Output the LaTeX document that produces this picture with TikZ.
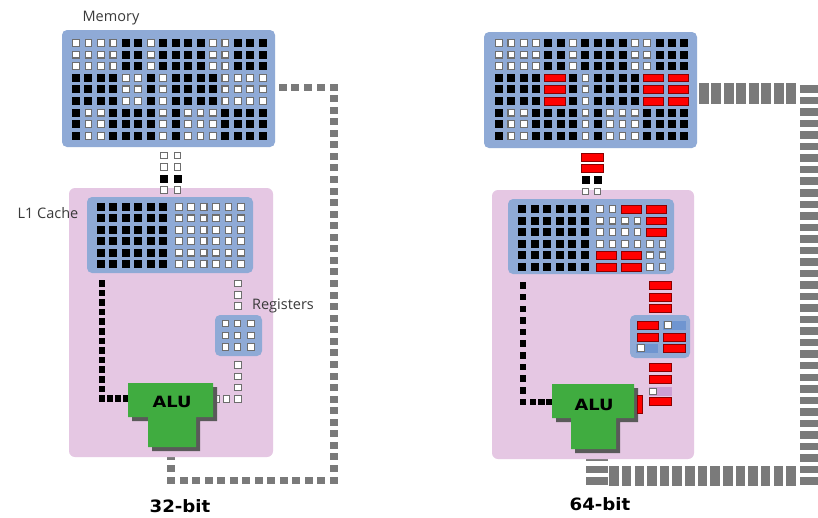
\documentclass[tikz,border=0pt]{standalone}
\usepackage{fontspec}
\setmainfont{Open Sans}
\newfontfamily\boldsans{DejaVu Sans}
\definecolor{boxblue}{HTML}{8FAAD6}
\definecolor{boxpurple}{HTML}{E5C7E3}
\definecolor{alugreen}{HTML}{40AC40}
\definecolor{shadowgray}{HTML}{5A5A5A}
\definecolor{busgray}{HTML}{7A7A7A}
\definecolor{cellgray}{HTML}{6E6E6E}
\definecolor{regblue}{HTML}{6F95D0}
\definecolor{cellpurple}{HTML}{CC9FD3}
\definecolor{labelgray}{HTML}{3A3A3A}
\definecolor{darkred}{HTML}{8A0000}
\newcommand\cellW[2]{\filldraw[fill=white,draw=cellgray,line width=1.1pt] ({#1-3.4},{#2-3.4}) rectangle ({#1+3.4},{#2+3.4});}
\newcommand\cellB[2]{\fill[black] ({#1-4},{#2-4}) rectangle ({#1+4},{#2+4});}
\newcommand\cellR[2]{\filldraw[fill=red,draw=darkred,line width=0.5pt] ({#1-4},{#2-3.8}) rectangle ({#1+16.4},{#2+3.8});}
\newcommand\cellN[2]{}
\newcommand\dotB[2]{\fill[black] ({#1-3.3},{#2-3.3}) rectangle ({#1+3.3},{#2+3.3});}
\newcommand\gsq[4]{\fill[busgray] ({#1-#3/2},{#2-#4/2}) rectangle ({#1+#3/2},{#2+#4/2});}
\newcommand\rbar[2]{\filldraw[fill=red,draw=darkred,line width=0.5pt] ({#1-11},{#2-4}) rectangle ({#1+11},{#2+4});}
% #1 x0, #2 y0, #3 pitch x, #4 pitch y, #5 extra gap after column 6, #6 rows
\newcommand\gridrows[6]{%
  \foreach \row [count=\rr] in {#6} {
    \foreach \cc [count=\ii] in \row {
      \pgfmathsetmacro\xx{#1+(\ii-1)*#3+(\ii>6)*#5}
      \pgfmathsetmacro\yy{#2+(\rr-1)*#4}
      \csname cell\cc\endcsname{\xx}{\yy}
    }
  }}
\tikzset{
  lbl/.style={font=\fontsize{14.5}{17}\selectfont, text=labelgray, inner sep=0pt},
  alut/.style={font=\boldsans\bfseries\fontsize{15.5}{18}\selectfont, inner sep=0pt},
  bitt/.style={font=\boldsans\bfseries\fontsize{17}{20}\selectfont, inner sep=0pt},
  bluebox/.style={fill=boxblue, rounded corners=5pt},
  purplebox/.style={fill=boxpurple, rounded corners=6pt}
}
\begin{document}
\begin{tikzpicture}[x=1pt,y=-1pt]
\useasboundingbox (0,0) rectangle (818,517);
\fill[white] (0,0) rectangle (818,517);

% ================= 32-bit =================
\path[bluebox] (62,30) rectangle (275,147);
\gridrows{76}{43}{12.45}{11.6}{0}{
 {W,W,W,W,B,B,W,B,B,B,B,W,W,B,B,B},
 {W,W,W,W,B,B,W,B,B,B,B,W,W,B,B,B},
 {W,W,W,W,B,B,W,B,B,B,B,W,W,B,B,B},
 {B,B,B,B,W,W,B,W,B,B,B,B,W,W,W,W},
 {B,B,B,B,W,W,B,W,B,B,B,B,W,W,W,W},
 {B,B,B,B,W,W,B,W,B,B,B,B,W,W,W,W},
 {B,W,W,B,B,B,B,W,B,W,W,W,B,B,B,B},
 {B,W,W,B,B,B,B,W,B,W,W,W,B,B,B,B},
 {B,W,W,B,B,B,B,W,B,W,W,W,B,B,B,B}}

% bus 32
\foreach \k in {0,...,3} {\gsq{282.5+\k*12.9}{87}{8}{7}}
\foreach \k in {0,...,34} {\gsq{334}{87+\k*11.56}{8}{7}}
\foreach \k in {1,...,13} {\gsq{334-\k*12.54}{480}{8}{7}}
\gsq{171}{468.5}{8}{7}
\gsq{171}{456.5}{8}{7}

\path[purplebox] (69,188) rectangle (273,457);
% memory -> L1
\foreach \y/\t in {155.5/W,167/W,178.5/B,190/W} {
  \csname cell\t\endcsname{164}{\y}
  \csname cell\t\endcsname{177.5}{\y}
}
\path[bluebox] (87,197) rectangle (253,273);
\gridrows{101}{207}{12.45}{11.4}{3}{
 {B,B,B,B,B,B,W,W,W,W,W,W},
 {B,B,B,B,B,B,W,W,W,W,W,W},
 {B,B,B,B,B,B,W,W,W,W,W,W},
 {B,B,B,B,B,B,W,W,W,W,W,W},
 {B,B,B,B,B,B,W,W,W,W,W,W},
 {B,B,B,B,B,B,W,W,W,W,W,W}}
% L1 -> ALU (black)
\foreach \k in {0,...,12} {\dotB{102}{283.3+\k*9.6}}
\foreach \x in {110,118,126} {\dotB{\x}{398.5}}
% L1 -> registers -> ALU (white)
\foreach \y in {283.5,295,306,365,376.5,387.5,399} {\cellW{238}{\y}}
\foreach \x in {226.5,216} {\cellW{\x}{399}}
\path[bluebox] (215,315) rectangle (262,356);
\foreach \x in {225.5,237.5,251} {\foreach \y in {323.5,335.5,346.7} {\cellW{\x}{\y}}}
% ALU 32
\fill[shadowgray] (132,387) -- (217,387) -- (217,421) -- (200,421) -- (200,451) -- (152,451) -- (152,421) -- (132,421) -- cycle;
\fill[alugreen] (128,383) -- (213,383) -- (213,417) -- (196,417) -- (196,447) -- (148,447) -- (148,417) -- (128,417) -- cycle;
\node[alut] (alu32) at (172,402) {\scalebox{1.15}[1]{ALU}};

\node[lbl] (memlbl) at (111,18) {Memory};
\node[lbl] (l1lbl) at (48,213) {L1 Cache};
\node[lbl] (reglbl) at (283,306) {Registers};
\node[bitt] (b32) at (180,506) {\scalebox{1.07}[1]{32-bit}};

% ================= 64-bit =================
\path[bluebox] (484,32) rectangle (697,148);
\gridrows{499}{43}{12.35}{11.6}{0}{
 {W,W,W,W,B,B,W,B,B,B,B,W,W,B,B,B},
 {W,W,W,W,B,B,W,B,B,B,B,W,W,B,B,B},
 {W,W,W,W,B,B,W,B,B,B,B,W,W,B,B,B},
 {B,B,B,B,R,N,B,W,B,B,B,B,R,N,R,N},
 {B,B,B,B,R,N,B,W,B,B,B,B,R,N,R,N},
 {B,B,B,B,R,N,B,W,B,B,B,B,R,N,R,N},
 {B,W,W,B,B,B,B,W,B,W,W,W,B,B,B,B},
 {B,W,W,B,B,B,B,W,B,W,W,W,B,B,B,B},
 {B,W,W,B,B,B,B,W,B,W,W,W,B,B,B,B}}

% bus 64
\foreach \k in {0,...,7} {\gsq{703.8+\k*12.5}{93.5}{10}{21}}
\foreach \k in {0,...,34} {\gsq{811}{89+\k*11.53}{22}{7.5}}
\foreach \k in {0,...,14} {\gsq{614+\k*12.64}{476}{9.5}{20}}
\foreach \y in {457.5,469.5,481} {\gsq{597}{\y}{22}{7.5}}

\path[purplebox] (492,190) rectangle (694,459);
% memory -> L1
\rbar{592}{157}
\rbar{592}{168}
\cellB{585.5}{180}\cellB{597.5}{180}
\cellW{585.5}{191.5}\cellW{597.5}{191.5}
\path[bluebox] (508,199) rectangle (674,274);
\gridrows{522}{209}{12.5}{11.6}{3}{
 {B,B,B,B,B,B,W,W,R,N,R,N},
 {B,B,B,B,B,B,W,W,W,W,R,N},
 {B,B,B,B,B,B,W,W,W,W,R,N},
 {B,B,B,B,B,B,W,W,W,W,W,W},
 {B,B,B,B,B,B,R,N,R,N,W,W},
 {B,B,B,B,B,B,R,N,R,N,W,W}}
% L1 -> ALU (black)
\foreach \k in {0,...,10} {\dotB{523}{285.5+\k*11.65}}
\foreach \x in {533,541.5,549.5} {\dotB{\x}{402}}
% L1 -> registers -> ALU (64 bit)
\foreach \y in {285.5,297,308,367.5,379,401.5} {\rbar{660}{\y}}
\fill[cellpurple] (649,387) rectangle (672,396);
\cellW{653}{391.5}
\path[bluebox] (630,315) rectangle (690,358);
\fill[regblue] (663,321) rectangle (686,329.5);
\cellW{668}{325.2}
\filldraw[fill=red,draw=darkred,line width=0.5pt] (637,321) rectangle (658,329.5);
\filldraw[fill=red,draw=darkred,line width=0.5pt] (637,333) rectangle (658,341.5);
\filldraw[fill=red,draw=darkred,line width=0.5pt] (663,333) rectangle (685,341.5);
\fill[regblue] (636,344) rectangle (658,352.5);
\cellW{641}{348.3}
\filldraw[fill=red,draw=darkred,line width=0.5pt] (663,344) rectangle (685,352.5);
% ALU 64
\fill[shadowgray] (556,388) -- (638,388) -- (638,422) -- (620,422) -- (620,453) -- (575,453) -- (575,422) -- (556,422) -- cycle;
\fill[alugreen] (552,384) -- (634,384) -- (634,418) -- (616,418) -- (616,449) -- (571,449) -- (571,418) -- (552,418) -- cycle;
\filldraw[fill=red,draw=darkred,line width=0.5pt] (637.5,395) rectangle (642.5,413);
\node[alut] (alu64) at (594,405) {\scalebox{1.15}[1]{ALU}};
\node[bitt] (b64) at (600,504) {\scalebox{1.07}[1]{64-bit}};
\end{tikzpicture}
\end{document}
